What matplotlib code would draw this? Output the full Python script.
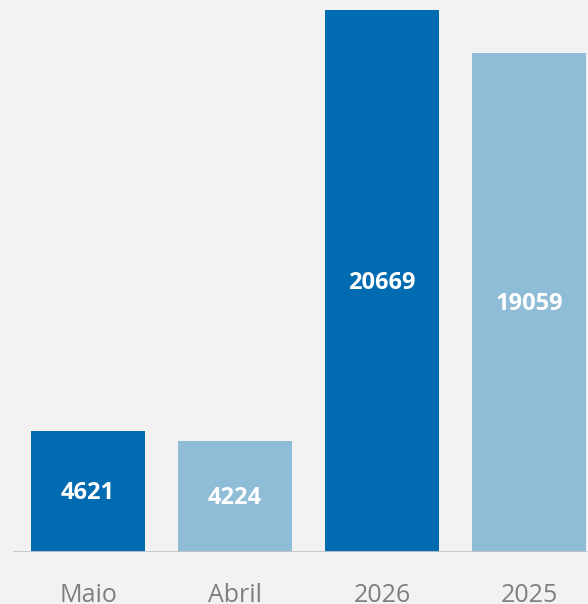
import matplotlib
matplotlib.use('Agg')
import matplotlib.pyplot as plt

categories = ['Maio', 'Abril', '2026', '2025']
values = [4621, 4224, 20669, 19059]
colors = ['#006bb0', '#8fbcd6', '#006bb0', '#8fbcd6']

bg = '#f2f2f2'
fig = plt.figure(figsize=(5.88, 6.04), dpi=100, facecolor=bg)
ax = fig.add_axes([0, 52.5 / 604, 1, 551.5 / 604])
ax.set_facecolor(bg)

x = list(range(len(categories)))
ax.bar(x, values, width=0.77, color=colors, edgecolor='none', zorder=2)

for xi, v in zip(x, values):
    ax.text(xi, v / 2 - 60, str(v), ha='center', va='center', color='white',
            fontsize=17, fontweight='bold', family='Open Sans', zorder=3)

ax.set_xlim(-88 / 147, 500 / 147)
ax.set_ylim(0, 21070)
ax.axhline(0, xmin=14 / 588, xmax=1, color='#c4c4c4', lw=2, zorder=3)

for xi, c in zip(x, categories):
    ax.text(xi, -1930, c, ha='center', va='baseline', color='#7f7f7f',
            fontsize=18, family='Open Sans', clip_on=False)

for s in ax.spines.values():
    s.set_visible(False)
ax.set_xticks([])
ax.set_yticks([])

fig.savefig('out.png', dpi=100, facecolor=bg)
